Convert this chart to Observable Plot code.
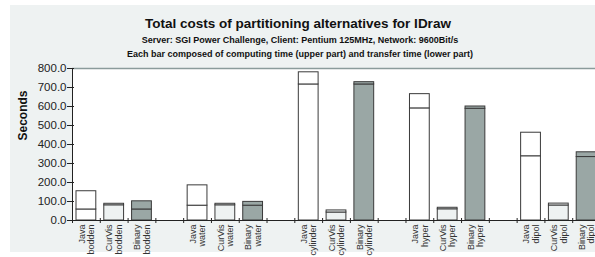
<!DOCTYPE html>
<html><head><meta charset="utf-8">
<script src="https://cdn.jsdelivr.net/npm/d3@7"></script>
<script src="https://cdn.jsdelivr.net/npm/@observablehq/plot@0.6"></script>
<style>
html,body{margin:0;padding:0;background:#fff;overflow:hidden;}
#wrap{position:relative;width:595px;height:257px;overflow:hidden;font-family:"Liberation Sans",Arial,sans-serif;}
#bg{position:absolute;left:10px;top:5px;width:585px;height:247px;background:#eef2f2;}
#chart{position:absolute;left:0;top:0;}
.t{position:absolute;width:500px;text-align:center;font-weight:bold;line-height:1;color:#111;white-space:nowrap;}
</style></head>
<body>
<div id="wrap">
  <div id="bg"></div>
  <div id="chart"></div>
  <div class="t" style="left:48px;top:16.5px;font-size:13.5px;">Total costs of partitioning alternatives for IDraw</div>
  <div class="t" style="left:50px;top:35.5px;font-size:9px;">Server: SGI Power Challenge, Client: Pentium 125MHz, Network: 9600Bit/s</div>
  <div class="t" style="left:50px;top:49.5px;font-size:9px;">Each bar composed of computing time (upper part) and transfer time (lower part)</div>
</div>
<script>
// categories
const datasets = ["bodden", "water", "cylinder", "hyper", "dipol"];
const methods = ["Java", "CurVis", "Binary"];
// transfer time (lower part) and total (transfer + computing) in seconds
const transferJava   = [58, 78, 716, 590, 338];
const totalJava      = [154, 185, 780, 665, 462];
const transferCurVis = [80, 80, 42, 59, 79];
const totalCurVis    = [88, 88, 53, 67, 89];
const transferBinary = [58, 78, 716, 588, 334];
const totalBinary    = [101, 98, 728, 600, 359];
// y ticks
const yTicks = [0, 100, 200, 300, 400, 500, 600, 700, 800];

const transfer = {Java: transferJava, CurVis: transferCurVis, Binary: transferBinary};
const total = {Java: totalJava, CurVis: totalCurVis, Binary: totalBinary};
const rows = [];
datasets.forEach((ds, g) => methods.forEach((m, k) => rows.push({
  slot: g * 4 + k, method: m, dataset: ds,
  transfer: transfer[m][g], total: total[m][g], label: m + "\n" + ds
})));
const slotEdges = d3.range(0, 20);
const fmt = d3.format(".1f");

const chart = Plot.plot({
  width: 595, height: 257,
  marginLeft: 72, marginRight: 0, marginTop: 68, marginBottom: 37,
  style: {background: "transparent", overflow: "hidden", fontFamily: "Liberation Sans, Arial, sans-serif"},
  x: {domain: [0, 19], range: [72, 600], axis: null},
  y: {domain: [0, 800], axis: null},
  color: {domain: methods, range: ["#ffffff", "#eef2f2", "#9aa7a5"]},
  marks: [
    Plot.frame({fill: "white", stroke: null}),
    Plot.ruleY([800], {stroke: "#8a9b9b", strokeWidth: 1.5}),
    Plot.rect(rows, {x1: "slot", x2: d => d.slot + 1, y1: 0, y2: "transfer", insetLeft: 4, insetRight: 4, fill: "method", stroke: "#3a3a3a", strokeWidth: 1}),
    Plot.rect(rows, {x1: "slot", x2: d => d.slot + 1, y1: "transfer", y2: "total", insetLeft: 4, insetRight: 4, fill: "method", stroke: "#3a3a3a", strokeWidth: 1}),
    Plot.ruleY([0], {stroke: "#222"}),
    Plot.ruleX([0], {stroke: "#222"}),
    Plot.ruleY(yTicks, {y: d => d, x1: 0, x2: 0, insetLeft: -5, insetRight: -2, stroke: "#222"}),
    Plot.ruleX(slotEdges, {x: d => d, y1: 0, y2: 0, insetTop: -2, insetBottom: -3, stroke: "#222"}),
    Plot.text(yTicks, {x: 0, y: d => d, text: d => fmt(d), textAnchor: "end", dx: -6, fontSize: 11.5, fill: "#222"}),
    Plot.text(rows, {x: d => d.slot + 0.5, y: 0, text: "label", rotate: -90, textAnchor: "end", lineAnchor: "middle", dy: 4, fontSize: 9, lineHeight: 1.05, fill: "#333"}),
    Plot.text(["Seconds"], {frameAnchor: "left", rotate: -90, dx: -49, dy: -4, fontWeight: "bold", fontSize: 12, fill: "#111"})
  ]
});
document.getElementById("chart").appendChild(chart);
</script>
</body></html>
